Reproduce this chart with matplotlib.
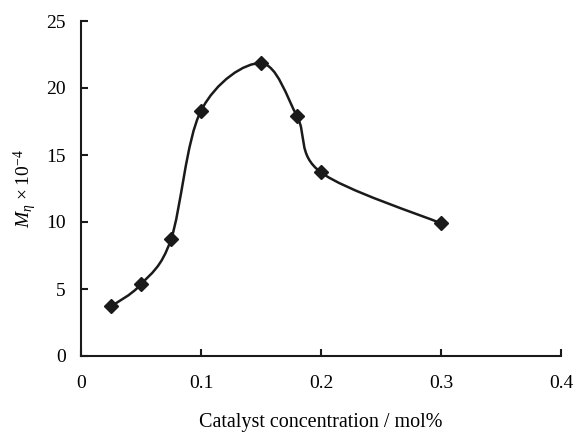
import numpy as np
import matplotlib
matplotlib.use("Agg")
import matplotlib.pyplot as plt
from matplotlib.path import Path
from matplotlib.patches import PathPatch

plt.rcParams['font.family'] = ['Liberation Serif', 'DejaVu Serif']
plt.rcParams['mathtext.fontset'] = 'custom'
plt.rcParams['mathtext.rm'] = 'Liberation Serif'
plt.rcParams['mathtext.it'] = 'Liberation Serif:italic'

conc = [0.025, 0.05, 0.075, 0.1, 0.15, 0.18, 0.2, 0.3]
mw = [3.7, 5.35, 8.7, 18.3, 21.85, 17.9, 13.7, 9.9]
xticks = [0, 0.1, 0.2, 0.3, 0.4]
xticklabels = ['0', '0.1', '0.2', '0.3', '0.4']
yticks = [0, 5, 10, 15, 20, 25]

fig = plt.figure(figsize=(5.76, 4.38), dpi=100)
ax = fig.add_axes([81/576, 1-356/438, 480/576, 335/438])

# Excel-like smoothed line (Catmull-Rom Bezier through the data points)
P = np.column_stack([conc, mw])
ext = np.vstack([P[0], P, P[-1]])
verts = [tuple(P[0])]
codes = [Path.MOVETO]
for i in range(len(P)-1):
    p0, p1, p2, p3 = ext[i], ext[i+1], ext[i+2], ext[i+3]
    c1 = p1 + (p2 - p0)/6
    c2 = p2 - (p3 - p1)/6
    verts += [tuple(c1), tuple(c2), tuple(p2)]
    codes += [Path.CURVE4]*3
ax.add_patch(PathPatch(Path(verts, codes), facecolor='none', edgecolor='#1a1a1a', lw=1.8, zorder=2))
ax.plot(conc, mw, linestyle='none', marker='D', ms=7.5, color='#1a1a1a', zorder=3)

ax.set_xlim(0, 0.4)
ax.set_ylim(0, 25)
ax.set_xticks(xticks)
ax.set_xticklabels(xticklabels)
ax.set_yticks(yticks)
for s in ['top', 'right']:
    ax.spines[s].set_visible(False)
for s in ['left', 'bottom']:
    ax.spines[s].set_linewidth(1.5)
    ax.spines[s].set_color('#1a1a1a')
ax.tick_params(direction='in', length=5, width=1.5, labelsize=14, color='#1a1a1a')
ax.tick_params(axis='y', pad=11)
ax.tick_params(axis='x', pad=14)
ax.set_xlabel('Catalyst concentration / mol%', fontsize=14.5, labelpad=15)
ax.set_ylabel(r'$M_{\eta}\,\times 10^{-4}$', fontsize=14, labelpad=5)
fig.savefig('out.png', dpi=100)
